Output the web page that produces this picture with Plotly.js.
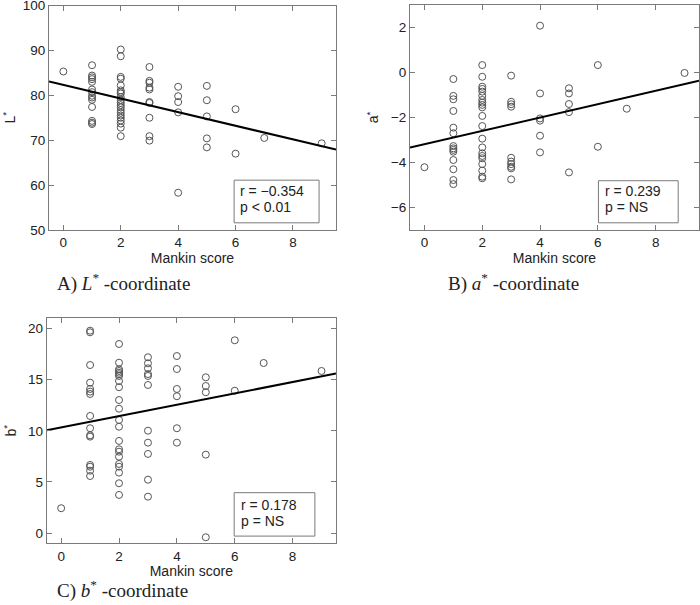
<!DOCTYPE html>
<html>
<head>
<meta charset="utf-8">
<script src="https://cdn.plot.ly/plotly-3.0.1.min.js"></script>
<style>html,body{margin:0;padding:0;background:#fff;}#chart{width:700px;height:605px;}</style>
</head>
<body>
<div id="chart"></div>
<script>
// ---- Data ----
const mankinL = [0,
  1,1,1,1,1,1,1,1,1,1,1,1,1,1,
  2,2,2,2,2,2,2,2,2,2,2,2,2,2,2,2,2,2,2,2,2,
  3,3,3,3,3,3,3,3,3,3,
  4,4,4,4,4,
  5,5,5,5,5,
  6,6, 7, 9];
const lStar = [85.3,
  86.7,84.4,84.0,83.6,83.0,81.3,80.7,79.9,79.5,79.0,77.4,74.3,73.9,73.6,
  90.2,88.7,84.1,83.7,82.2,81.1,80.7,80.4,79.6,78.9,78.3,77.8,77.3,76.7,76.1,75.5,75.0,74.4,73.7,72.8,70.9,
  86.3,83.2,82.8,81.7,81.3,78.5,78.3,75.0,70.9,69.9,
  81.9,79.8,78.5,76.2,58.3,
  82.1,78.9,75.3,70.4,68.4,
  76.9,67.0, 70.5, 69.3];

const mankinA = [0,
  1,1,1,1,1,1,1,1,1,1,1,1,1,1,
  2,2,2,2,2,2,2,2,2,2,2,2,2,2,2,2,2,2,2,2,2,
  3,3,3,3,3,3,3,3,3,3,
  4,4,4,4,4,4,
  5,5,5,5,5,
  6,6, 7, 9];
const aStar = [-4.21,
  -0.29,-1.04,-1.19,-1.71,-2.45,-2.70,-3.27,-3.37,-3.44,-3.52,-3.89,-4.30,-4.78,-4.96,
  0.33,-0.19,-0.63,-0.73,-0.85,-1.04,-1.22,-1.34,-1.44,-1.55,-1.93,-2.38,-2.94,-3.33,-3.59,-3.71,-3.81,-4.07,-4.36,-4.63,-4.70,
  -0.14,-1.30,-1.41,-1.52,-3.79,-3.96,-4.07,-4.19,-4.26,-4.75,
  2.08,-0.93,-2.04,-2.14,-2.81,-3.55,
  -0.70,-0.93,-1.40,-1.76,-4.44,
  0.33,-3.30, -1.61, -0.02];

const mankinB = [0,
  1,1,1,1,1,1,1,1,1,1,1,1,1,1,1,
  2,2,2,2,2,2,2,2,2,2,2,2,2,2,2,2,2,2,2,2,2,2,
  3,3,3,3,3,3,3,3,3,3,3,
  4,4,4,4,4,4,
  5,5,5,5,5,
  6,6, 7, 9];
const bStar = [2.43,
  19.79,19.63,16.43,14.71,14.09,13.83,13.60,11.45,10.25,9.56,9.43,6.66,6.49,6.10,5.58,
  18.49,16.66,16.01,15.85,15.68,15.53,15.36,14.87,14.26,13.01,12.16,11.06,10.40,9.01,8.19,7.96,7.47,6.76,6.49,5.91,4.87,3.73,
  17.19,16.60,16.11,15.55,15.36,14.48,10.01,8.84,7.74,5.22,3.56,
  17.31,16.04,14.09,13.38,10.25,8.84,
  15.23,14.38,13.77,7.67,-0.41,
  18.85,13.92, 16.63, 15.85];

// regression lines (end points read at the axis limits)
const fitX = [-0.5, 9.5];
const fitL = [83.1, 67.9];
const fitA = [-3.34, -0.37];
const fitB = [10.05, 15.6];

const statsL = ["r = \u22120.354", "p &lt; 0.01"];
const statsA = ["r = 0.239", "p = NS"];
const statsB = ["r = 0.178", "p = NS"];

const xTicks = [0, 2, 4, 6, 8];
const lTicks = [50, 60, 70, 80, 90, 100];
const aTicks = [-6, -4, -2, 0, 2];
const bTicks = [0, 5, 10, 15, 20];

const captions = ["A) <i>L</i><sup>*</sup> -coordinate", "B) <i>a</i><sup>*</sup> -coordinate", "C) <i>b</i><sup>*</sup> -coordinate"];

// ---- Styling ----
const SANS = "Liberation Sans, Arial, sans-serif";
const SERIF = "Liberation Serif, Times New Roman, serif";
const AXC = "#7a7a7a";
const TXT = "#222222";

const marker = {symbol: "circle-open", size: 7, color: "#555555", line: {width: 1, color: "#555555"}};
const lineStyle = {color: "#000000", width: 2};

function pts(x, y, xa, ya) {
  return {type: "scatter", mode: "markers", x: x, y: y, xaxis: xa, yaxis: ya, marker: marker, cliponaxis: false};
}
function fit(y, xa, ya) {
  return {type: "scatter", mode: "lines", x: fitX, y: y, xaxis: xa, yaxis: ya, line: lineStyle};
}

const data = [
  pts(mankinL, lStar, "x", "y"), fit(fitL, "x", "y"),
  pts(mankinA, aStar, "x2", "y2"), fit(fitA, "x2", "y2"),
  pts(mankinB, bStar, "x3", "y3"), fit(fitB, "x3", "y3")
];

function xax(domain, anchor) {
  return {
    domain: domain, anchor: anchor, range: [-0.5, 9.5], tickmode: "array", tickvals: xTicks,
    ticks: "inside", ticklen: 5, tickcolor: AXC, showline: true, linecolor: AXC, linewidth: 1,
    mirror: "ticks", showgrid: false, zeroline: false, ticklabeloverflow: "allow",
    tickfont: {family: SANS, size: 13.5, color: TXT},
    title: {text: "Mankin score", font: {family: SANS, size: 14, color: TXT}, standoff: 0}
  };
}
function yax(domain, anchor, range, ticks, title) {
  return {
    domain: domain, anchor: anchor, range: range, tickmode: "array", tickvals: ticks,
    ticks: "inside", ticklen: 5, tickcolor: AXC, showline: true, linecolor: AXC, linewidth: 1,
    mirror: "ticks", showgrid: false, zeroline: false, ticklabeloverflow: "allow",
    tickfont: {family: SANS, size: 13.5, color: TXT},
    title: {text: title, font: {family: SANS, size: 14, color: TXT}, standoff: 8}
  };
}

const yTop = [1 - 230/605, 1 - 5/605];
const yBot = [1 - 543.3/605, 1 - 318.3/605];

function statBox(xr, yr, x0, x1, y0, y1, lines, ly) {
  const shape = {type: "rect", xref: xr + " domain", yref: yr + " domain", x0: x0, x1: x1, y0: y0, y1: y1,
    line: {color: AXC, width: 1}, fillcolor: "#ffffff", layer: "above"};
  const anns = lines.map((t, i) => ({
    xref: xr + " domain", yref: yr + " domain", x: x0 + 0.015, y: ly[i], xanchor: "left", yanchor: "middle",
    text: t, showarrow: false, font: {family: SANS, size: 14, color: TXT}
  }));
  return {shape: shape, anns: anns};
}

const boxA = statBox("x", "y", 0.645, 0.941, 0.032, 0.222, statsL, [0.175, 0.101]);
const boxB = statBox("x2", "y2", 0.652, 0.928, 0.032, 0.219, statsA, [0.175, 0.104]);
const boxC = statBox("x3", "y3", 0.648, 0.927, 0.032, 0.225, statsB, [0.170, 0.100]);

const capAnns = [
  {xref: "paper", yref: "paper", x: 55/700, y: 1 - 282/605, text: captions[0]},
  {xref: "paper", yref: "paper", x: 446/700, y: 1 - 282/605, text: captions[1]},
  {xref: "paper", yref: "paper", x: 55/700, y: 1 - 589/605, text: captions[2]}
].map(a => Object.assign(a, {xanchor: "left", yanchor: "middle", showarrow: false,
  font: {family: SERIF, size: 19, color: TXT}}));

const layout = {
  width: 700, height: 605,
  margin: {l: 0, r: 0, t: 0, b: 0},
  paper_bgcolor: "#ffffff", plot_bgcolor: "#ffffff",
  showlegend: false,
  xaxis: xax([49/700, 336/700], "y"),
  yaxis: yax([1 - 230/605, 1 - 5.5/605], "x", [50, 100], lTicks, "L<sup>*</sup>"),
  xaxis2: xax([410/700, 699/700], "y2"),
  yaxis2: yax(yTop, "x2", [-7, 3], aTicks, "a<sup>*</sup>"),
  xaxis3: xax([46.7/700, 336/700], "y3"),
  yaxis3: yax(yBot, "x3", [-1, 21], bTicks, "b<sup>*</sup>"),
  shapes: [boxA.shape, boxB.shape, boxC.shape],
  annotations: [].concat(boxA.anns, boxB.anns, boxC.anns, capAnns)
};

Plotly.newPlot("chart", data, layout, {displayModeBar: false, staticPlot: true});
</script>
</body>
</html>
